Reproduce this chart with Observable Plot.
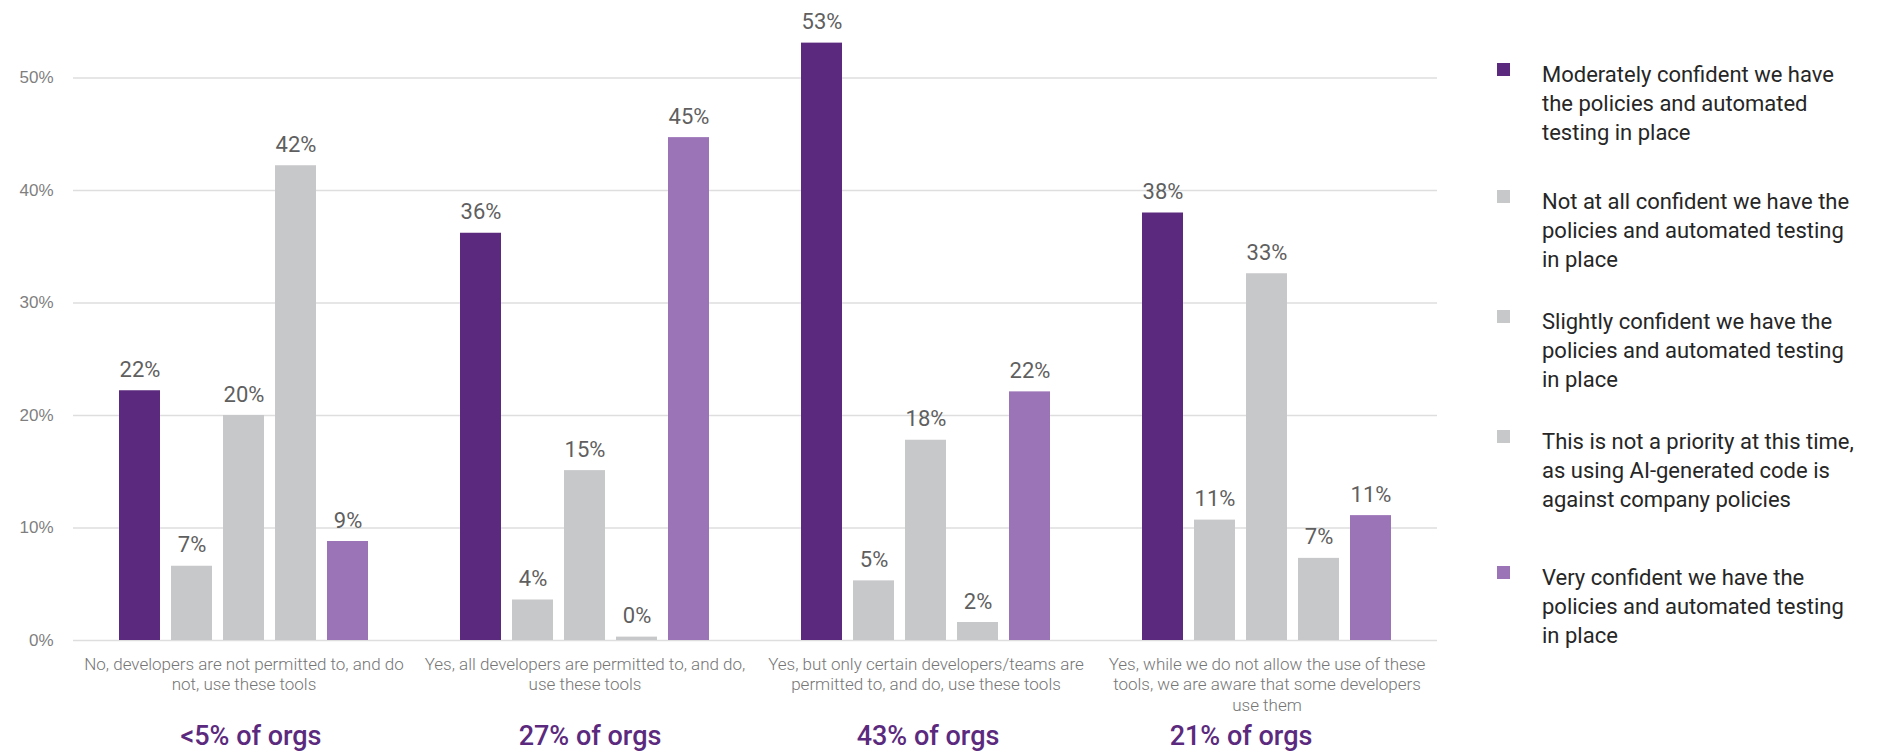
<!DOCTYPE html>
<html>
<head>
<meta charset="utf-8">
<script src="https://cdn.jsdelivr.net/npm/d3@7"></script>
<script src="https://cdn.jsdelivr.net/npm/@observablehq/plot@0.6"></script>
<style>
  html, body { margin: 0; padding: 0; background: #fff; }
  #wrap { position: relative; width: 1887px; height: 751px; font-family: Roboto, sans-serif; }
  #chart { position: absolute; left: 0; top: 0; }
  #legend { position: absolute; left: 1497px; top: 0; width: 390px; height: 751px; }
  .item { position: absolute; left: 0; display: flex; align-items: flex-start; }
  .sw { width: 13px; height: 13px; margin-top: 3px; margin-right: 32px; flex: none; }
  .lbl { font-size: 22px; line-height: 29px; color: #262626; white-space: pre; }
</style>
</head>
<body>
<div id="wrap">
  <div id="chart"></div>
  <div id="legend"></div>
</div>
<script>
// ---- data ----
const groups = [
  "No, developers are not permitted to, and do not, use these tools",
  "Yes, all developers are permitted to, and do, use these tools",
  "Yes, but only certain developers/teams are permitted to, and do, use these tools",
  "Yes, while we do not allow the use of these tools, we are aware that some developers use them"
];
const groupLabels = [
  "No, developers are not permitted to, and do\nnot, use these tools",
  "Yes, all developers are permitted to, and do,\nuse these tools",
  "Yes, but only certain developers/teams are\npermitted to, and do, use these tools",
  "Yes, while we do not allow the use of these\ntools, we are aware that some developers\nuse them"
];
const orgShares = ["<5% of orgs", "27% of orgs", "43% of orgs", "21% of orgs"];
const series = [
  "Moderately confident we have the policies and automated testing in place",
  "Not at all confident we have the policies and automated testing in place",
  "Slightly confident we have the policies and automated testing in place",
  "This is not a priority at this time, as using AI-generated code is against company policies",
  "Very confident we have the policies and automated testing in place"
];
const seriesLegendText = [
  "Moderately confident we have\nthe policies and automated\ntesting in place",
  "Not at all confident we have the\npolicies and automated testing\nin place",
  "Slightly confident we have the\npolicies and automated testing\nin place",
  "This is not a priority at this time,\nas using AI-generated code is\nagainst company policies",
  "Very confident we have the\npolicies and automated testing\nin place"
];
const seriesColors = ["#5b2a7e", "#c7c8ca", "#c7c8ca", "#c7c8ca", "#9b73b7"];
const moderately  = [22.2, 36.2, 53.1, 38.0];
const notAtAll    = [6.6, 3.6, 5.3, 10.7];
const slightly    = [20.0, 15.1, 17.8, 32.6];
const notPriority = [42.2, 0.3, 1.6, 7.3];
const very        = [8.8, 44.7, 22.1, 11.1];
const yTicks = [0, 10, 20, 30, 40, 50];

const seriesValues = [moderately, notAtAll, slightly, notPriority, very];
const rows = [];
groups.forEach((g, gi) => series.forEach((s, si) => rows.push({group: g, series: s, value: seriesValues[si][gi]})));

// horizontal nudges of the "% of orgs" captions (layout only)
const orgDx = [7, 5, 2, -26];

const chart = Plot.plot({
  width: 1450,
  height: 751,
  marginLeft: 71,
  marginRight: 12,
  marginTop: 10,
  marginBottom: 111,
  style: {fontFamily: "Roboto, sans-serif", background: "white", overflow: "visible"},
  fx: {domain: groups, padding: 0, label: null},
  x: {domain: series, paddingInner: 0.204, paddingOuter: 0.846, axis: null},
  y: {domain: [0, 56], axis: null},
  color: {domain: series, range: seriesColors},
  marks: [
    Plot.ruleY(yTicks, {stroke: "#dedede", strokeWidth: 1.5}),
    Plot.axisY({ticks: yTicks, tickFormat: d => d + "%", tickSize: 0, tickPadding: 20, fontSize: 17, fontFamily: "'Liberation Sans', Arial, sans-serif", color: "#7f7f7f", label: null}),
    Plot.barY(rows, {fx: "group", x: "series", y: "value", fill: "series"}),
    Plot.text(rows, {fx: "group", x: "series", y: "value", text: d => Math.round(d.value) + "%", dy: -21, fontSize: 22, fill: "#5f5f5f"}),
    Plot.axisFx({anchor: "bottom", tickFormat: g => groupLabels[groups.indexOf(g)], tickSize: 0, tickPadding: 15, fontSize: 17, fontWeight: 300, lineHeight: 1.2, color: "#767676", label: null}),
    ...groups.map((g, i) => Plot.text([g], {fx: d => d, text: d => orgShares[groups.indexOf(d)], frameAnchor: "bottom", dy: 104, dx: orgDx[i], fontSize: 27, fontWeight: 500, fill: "#5b2a7e"}))
  ]
});
document.getElementById("chart").appendChild(chart);

// ---- legend ----
const legendTops = [60, 187, 307, 427, 563];
const legend = document.getElementById("legend");
series.forEach((s, i) => {
  const item = document.createElement("div");
  item.className = "item";
  item.style.top = legendTops[i] + "px";
  const sw = document.createElement("div");
  sw.className = "sw";
  sw.style.background = seriesColors[i];
  const lbl = document.createElement("div");
  lbl.className = "lbl";
  lbl.textContent = seriesLegendText[i];
  item.appendChild(sw);
  item.appendChild(lbl);
  legend.appendChild(item);
});
</script>
</body>
</html>
